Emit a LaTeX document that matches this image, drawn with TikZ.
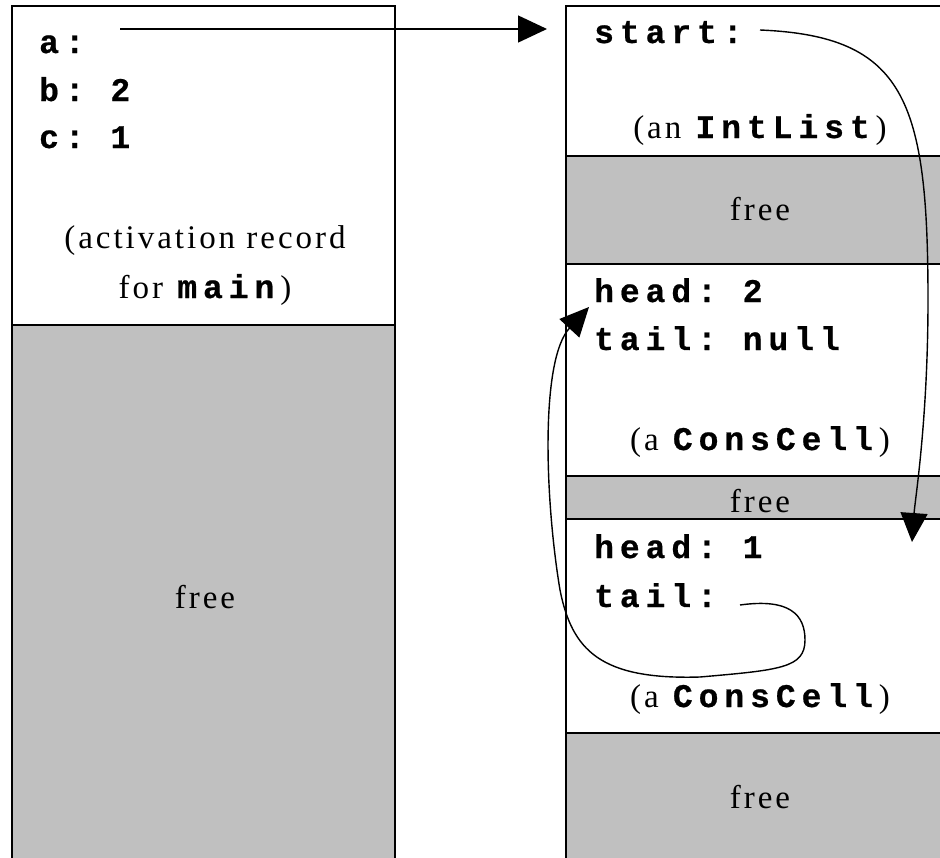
\documentclass[tikz,border=0pt]{standalone}
\usepackage{fontspec}
\setmainfont{Liberation Serif}[LetterSpace=9]
\setmonofont{Liberation Mono}[LetterSpace=18,BoldFeatures={FakeBold=0.6}]
\usetikzlibrary{arrows.meta}
\definecolor{freegray}{RGB}{192,192,192}
\begin{document}
\begin{tikzpicture}[x=1pt,y=-1pt,
  cellbox/.style 2 args={draw=black, line width=2pt, inner sep=0pt, outer sep=0pt,
     anchor=north west, minimum width=#1pt, minimum height=#2pt},
  usedcell/.style={fill=white},
  freecell/.style={fill=freegray},
  mono/.style={inner sep=0pt, font=\fontsize{33}{40}\selectfont\ttfamily\bfseries},
  serif/.style={inner sep=0pt, font=\fontsize{33}{40}\selectfont},
  ptr/.style={line width=1.4pt, -{Triangle[length=29pt,width=27pt]}}]
\useasboundingbox (0,0) rectangle (940,857);
\clip (0,0) rectangle (940,857);
% left stack: activation record for main
\node[cellbox={383}{319}, usedcell] (ar) at (12,6) {};
\node[cellbox={383}{560}, freecell] (lfree) at (12,325) {};
% right stack: heap
\node[cellbox={388}{150}, usedcell] (il) at (566,6) {};
\node[cellbox={388}{108}, freecell] (f1) at (566,156) {};
\node[cellbox={388}{212}, usedcell] (c1) at (566,264) {};
\node[cellbox={388}{43}, freecell] (f2) at (566,476) {};
\node[cellbox={388}{214}, usedcell] (c2) at (566,519) {};
\node[cellbox={388}{150}, freecell] (f3) at (566,733) {};
% texts, left
\node[mono, anchor=base west] (ta) at (39,53) {a:};
\node[mono, anchor=base west] (tb) at (39,101) {b: 2};
\node[mono, anchor=base west] (tc) at (39,148) {c: 1};
\node[serif, anchor=base] (tar1) at (205,248) {(activation record};
\node[serif, anchor=base] (tar2) at (205,298) {for \texttt{\bfseries main})};
\node[serif, anchor=base] (tlfree) at (205,608) {free};
% texts, right
\node[mono, anchor=base west] (tstart) at (594,43) {start:};
\node[serif, anchor=base] (til) at (760,138) {(an \texttt{\bfseries IntList})};
\node[serif, anchor=base] (tf1) at (760,220) {free};
\node[mono, anchor=base west] (th1) at (594,302) {head: 2};
\node[mono, anchor=base west] (tt1) at (594,350) {tail: null};
\node[serif, anchor=base] (tc1) at (760,450) {(a \texttt{\bfseries ConsCell})};
\node[serif, anchor=base] (tf2) at (760,512) {free};
\node[mono, anchor=base west] (th2) at (594,558) {head: 1};
\node[mono, anchor=base west] (tt2) at (594,607) {tail:};
\node[serif, anchor=base] (tc2) at (760,707) {(a \texttt{\bfseries ConsCell})};
\node[serif, anchor=base] (tf3) at (760,808) {free};
% pointers
\coordinate (aval) at (120,29);
\coordinate (sval) at (760,30);
\coordinate (tval) at (740,605);
\coordinate (c2top) at (912,542);
\coordinate (c1top) at (589,307);
\draw[ptr, shorten >=19pt] (aval) -- (aval -| il.west);
\draw[ptr] (sval) .. controls (905,36) and (928,100) .. (928,300)
   .. controls (928,420) and (915,500) .. (c2top);
\draw[ptr] (tval) .. controls (790,598) and (805,615) .. (805,640)
   .. controls (805,668) and (780,670) .. (700,677)
   .. controls (600,680) and (572,650) .. (560,590)
   .. controls (545,500) and (540,360) .. (c1top);
\end{tikzpicture}
\end{document}
